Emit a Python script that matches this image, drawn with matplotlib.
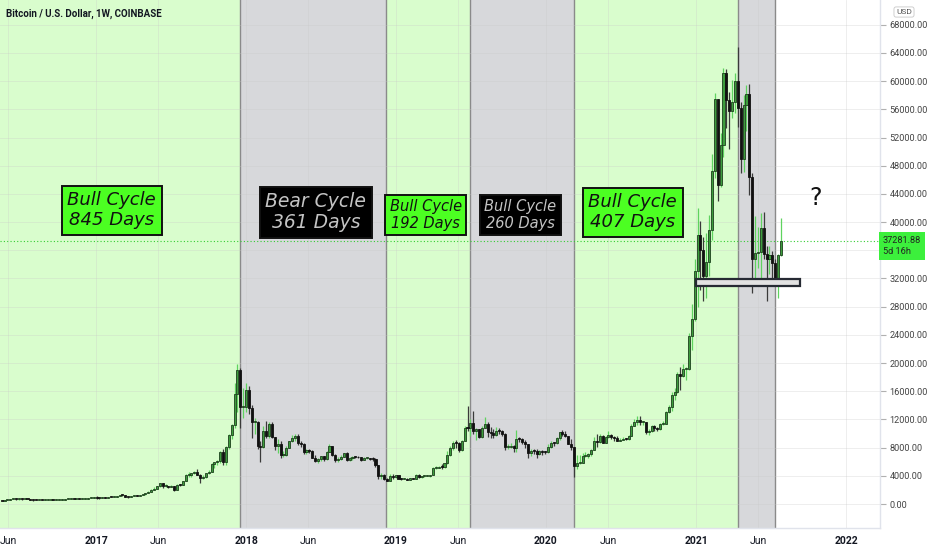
import numpy as np
import pandas as pd
import matplotlib
matplotlib.use('Agg')
import matplotlib.pyplot as plt
import matplotlib.dates as mdates
from matplotlib.patches import Rectangle
from matplotlib.transforms import blended_transform_factory

# weekly BTCUSD candles (Coinbase, 1W)
first_week = '2016-05-16'
first_open = 457

close_2016 = [444,528,583,665,763,665,670,650,666,655,624,590,570,581,570,607,608,609,602,612,
              617,639,653,702,705,703,740,734,765,775,791,890,1000]
high_2016 = [460,530,590,690,780,770,705,680,680,680,670,625,600,590,590,610,615,620,612,615,
             620,640,660,720,740,715,745,750,775,780,795,900,1020]
low_2016 = [440,442,525,570,660,560,620,635,640,650,615,480,565,565,565,568,600,602,595,596,
            605,610,635,650,680,690,690,725,725,755,765,785,880]

close_2017 = [908,826,922,918,1020,1000,1050,1180,1270,1240,1025,965,1090,1190,1180,1240,1350,1560,1720,2040,
              2190,2520,2950,2500,2590,2450,2510,1930,2750,2730,3230,4050,4090,4330,4580,4180,3700,3780,4360,4600,
              5680,5950,6150,7380,5950,8040,9730,11250,15600,19000,13800,13800]
high_2017 = [1150,920,930,930,1030,1060,1060,1190,1290,1330,1250,1060,1100,1200,1220,1260,1360,1600,1850,2200,
             2400,2600,3000,2980,2770,2600,2650,2520,2900,2800,3300,4200,4480,4400,4700,4980,4300,4100,4400,4800,
             5850,6000,6300,7500,7800,8300,9950,11400,17200,19800,19300,16500]
low_2017 = [780,750,820,880,915,980,980,1040,1150,1140,950,890,950,1080,1150,1170,1230,1340,1550,1700,
            1950,2150,2450,2300,2400,2300,2400,1830,1930,2600,2650,3200,3850,3900,4200,4050,2980,3550,3750,4200,
            4550,5100,5600,5750,5500,5550,7800,9200,10800,13000,10800,12200]

close_2018 = [16200,13600,11600,11700,8200,8100,10400,9600,11400,9500,8200,8500,6900,6900,8000,8900,9300,9600,8700,8500,
              7350,7700,7550,6500,6150,6350,6750,6350,7400,8200,7000,6300,6400,6700,7270,6250,6500,6700,6620,6600,
              6300,6480,6490,6400,6350,5550,4000,4100,3600,3230,3950,3900,4050]
high_2018 = [17200,16800,14000,12200,11800,9000,11000,11800,11700,11700,9500,9200,8900,7500,8250,9000,9750,9950,9900,8900,
             8600,7800,7800,7700,6900,6550,6850,6780,7500,8500,8250,7150,6600,6900,7300,7400,6650,6800,6790,6750,
             6700,6600,6600,6560,6600,6500,5600,4450,4200,3650,4250,4250,4100]
low_2018 = [13000,12800,9400,10000,7800,6000,8000,9300,9400,9400,7700,7300,6500,6600,6800,7900,8800,9000,8400,8100,
            7100,7050,7300,6500,5900,5800,6150,6100,6300,7350,6800,5900,6000,6300,6650,6150,6150,6200,6500,6500,
            6150,6200,6350,6300,6150,5300,3500,3600,3350,3200,3200,3600,3700]

close_2019 = [3600,3550,3550,3420,3650,3600,4150,3820,3950,4000,4000,4100,5050,5150,5300,5200,5750,6990,8000,8700,
              8600,7650,8990,10850,10800,11450,10350,10600,9500,10800,11300,10200,10100,9750,10400,10300,10000,8050,8150,8300,
              7950,9250,9200,8800,8500,7300,7550,7500,7100,7500,7400,7350]
high_2019 = [4100,3700,3700,3620,3700,3700,4200,4200,3990,4050,4050,4150,5300,5450,5350,5650,5800,7500,8300,8950,
             9100,8800,9050,11100,13900,12000,13200,10800,10700,11000,12300,11700,10950,10600,10900,10800,10500,10100,8550,8700,
             8400,10500,9450,9400,9150,8500,7800,7850,7800,7600,7700,7500]
low_2019 = [3550,3450,3500,3380,3380,3580,3600,3700,3700,3900,3950,3900,4050,4950,5100,5000,5150,5700,6800,7600,
            8000,7450,7500,8950,10300,9700,9950,9100,9400,9350,10750,9500,9400,9350,9600,10000,9650,7700,7850,7900,
            7400,7350,8850,8500,8000,6500,6850,7100,6500,6900,7000,7150]

close_2020 = [8150,8700,8600,9350,10150,9900,9650,8550,8050,5350,5830,5880,6780,6860,7120,7700,8900,8750,9680,8720,
              9450,9750,9470,9300,9000,9070,9250,9160,9700,11050,11700,11900,11650,11650,10250,10320,11080,10720,10670,11300,
              11400,13030,13800,15480,15950,18420,18180,19150,19150,23850,26250,33000]
high_2020 = [8450,9000,8800,9550,10200,10500,10300,9700,9200,8150,6900,6950,7200,7450,7300,7800,9450,10000,9950,9850,
             9600,10400,9950,9600,9700,9400,9450,9350,9850,11400,12100,12450,12500,11800,11700,10600,11200,11200,10950,11450,
             11750,13200,14100,15950,16480,18800,19500,19900,19400,24300,28400,34800]
low_2020 = [7300,8000,8250,8500,9150,9700,9450,8450,7700,3800,5000,5650,5850,6650,6500,6800,7600,8100,8600,8650,
            8700,9400,9250,8950,8900,8900,9050,9050,9100,9700,11000,11150,11250,11150,9900,9850,10200,10400,10400,10550,
            11200,11350,12900,13250,14800,15800,16200,18000,17600,18950,21800,26000]

close_2021 = [38150,36000,32300,34300,38900,47200,57500,45200,51000,61200,57300,55800,57100,60000,56200,49000,56600,58200,46400,34700,
              35600,35800,39100,35500,34700,35300,34250,31780,35400,37281.88]
high_2021 = [41950,40100,37850,38500,40950,49700,58350,57500,52600,61800,61700,58500,60100,61200,64850,57000,58000,59500,59600,46900,
             40800,39300,41300,41400,36600,36600,35900,34700,35500,40600]
low_2021 = [28000,30400,28800,29300,32300,37400,46200,43000,44950,49300,53300,50400,54800,55500,53500,47000,47100,52900,43800,30000,
            31100,33500,31000,34800,28800,32700,32100,31100,29300,35200]

close = close_2016+close_2017+close_2018+close_2019+close_2020+close_2021
high = high_2016+high_2017+high_2018+high_2019+high_2020+high_2021
low = low_2016+low_2017+low_2018+low_2019+low_2020+low_2021
last_price = close[-1]

# cycle zones
cycle_edges = ['2016-04-01','2017-12-16','2018-12-08','2019-06-29','2020-03-08','2021-04-12','2021-07-11']
cycle_kind = ['bull','bear','bull','bear','bull','bear']
cycle_text = ['Bull Cycle\n845 Days','Bear Cycle\n361 Days','Bull Cycle\n192 Days','Bull Cycle\n260 Days','Bull Cycle\n407 Days']

support_dates = ['2021-01-01','2021-09-11']
support_range = [30900, 31900]

weeks = pd.date_range(first_week, periods=len(close), freq='W-MON')
opn = np.array([first_open]+close[:-1], dtype=float)
close = np.array(close, dtype=float)
high = np.array(high, dtype=float)
low = np.array(low, dtype=float)
up = close >= opn

fig = plt.figure(figsize=(9.32,5.5), dpi=100)
ax = fig.add_axes([0, 22/550, 880/932, 528/550])
ax.set_facecolor('white')

zone_fc = {'bull':'#d9fdcd','bear':'#d7d8db'}
for i,k in enumerate(cycle_kind):
	a, b = pd.Timestamp(cycle_edges[i]), pd.Timestamp(cycle_edges[i+1])
	ax.axvspan(a, b, color=zone_fc[k], zorder=0, lw=0)
for e in cycle_edges[1:]:
	ax.axvline(pd.Timestamp(e), color='#8a8a8a', lw=1.0, zorder=1)

ax.grid(True, color='#c8c8c8', alpha=0.35, lw=0.6, zorder=0.5)

# price line
ax.axhline(last_price, color='#33cc33', lw=0.8, ls=(0,(1,2)), zorder=1.5)

# candles
body_lo = np.minimum(opn, close)
body_h = np.maximum(np.abs(close-opn), 140)
ax.vlines(weeks[up], low[up], high[up], color='#5fd35f', lw=0.9, zorder=2)
ax.vlines(weeks[~up], low[~up], high[~up], color='#3a3a3a', lw=0.9, zorder=2)
ax.bar(weeks[up], body_h[up], bottom=body_lo[up], width=5, color='#3d9c3d',
       edgecolor='#1d3f1d', lw=0.6, zorder=3)
ax.bar(weeks[~up], body_h[~up], bottom=body_lo[~up], width=5, color='#111111',
       edgecolor='#111111', lw=0.6, zorder=3)

# support box
s0, s1 = mdates.date2num(pd.Timestamp(support_dates[0])), mdates.date2num(pd.Timestamp(support_dates[1]))
ax.add_patch(Rectangle((s0, support_range[0]), s1-s0, support_range[1]-support_range[0],
                       fc='#e2e2e2', ec='#262a33', lw=1.6, zorder=4))

# labels
lab_pos = [(0.127,0.602,13),(0.359,0.598,13.5),(0.484,0.593,10.5),(0.591,0.593,10.5),(0.719,0.598,13)]
lab_style = ['bull','bear','bull','bear','bull']
for (x,y,fs),t,k in zip(lab_pos, cycle_text, lab_style):
	if k=='bull':
		fc, tc = '#4cff22', '#111111'
	else:
		fc, tc = '#000000', '#c4c4c4'
	ax.text(x, y, t, transform=ax.transAxes, ha='center', va='center', fontsize=fs,
	        style='italic', color=tc, linespacing=1.15, zorder=6,
	        bbox=dict(boxstyle='square,pad=0.3', fc=fc, ec='#111111', lw=1.4))
ax.text(0.927, 0.625, '?', transform=ax.transAxes, ha='center', va='center',
        fontsize=17, color='#111111', zorder=6)

ax.set_xlim(pd.Timestamp('2016-05-12'), pd.Timestamp('2022-03-24'))
ax.set_ylim(-3405, 71520)

xt = [pd.Timestamp('2016-06-01')]
xl = ['Jun']
for yr in range(2017, 2022):
	xt += [pd.Timestamp(f'{yr}-01-01'), pd.Timestamp(f'{yr}-06-01')]
	xl += [str(yr), 'Jun']
xt.append(pd.Timestamp('2022-01-01')); xl.append('2022')
ax.set_xticks(xt)
ax.set_xticklabels(xl, fontsize=7.5, color='#131722', family='Roboto')
for t in ax.get_xticklabels():
	if t.get_text()!='Jun':
		t.set_fontweight('bold')

# right price scale; the 36000 label sits under the last-price tag
yt = np.arange(0, 68001, 4000)
ax.yaxis.tick_right()
ax.set_yticks(yt)
ax.set_yticklabels(['' if v==36000 else f'{v:.2f}' for v in yt], fontsize=6.6, color='#444444', family='Roboto')
ax.tick_params(axis='y', length=4, color='#b0b0b0', pad=3)
ax.tick_params(axis='x', length=0, pad=6)

for s in ['top','left']:
	ax.spines[s].set_visible(False)
for s in ['right','bottom']:
	ax.spines[s].set_color('#e0e3eb')
	ax.spines[s].set_linewidth(1)

trans = blended_transform_factory(ax.transAxes, ax.transData)
ax.text(1.003, last_price-700, f'{last_price:.2f}\n5d 16h', transform=trans, ha='left', va='center',
        fontsize=6.6, color='#222222', family='Roboto', linespacing=1.3, zorder=7, clip_on=False,
        bbox=dict(boxstyle='square,pad=0.45', fc='#3cf03c', ec='none'))

fig.text(6/932, 1-14/550, 'Bitcoin / U.S. Dollar, 1W, COINBASE', fontsize=7, color='#131722',
         family='Roboto', fontweight='bold', ha='left', va='center')
fig.text(904/932, 1-12/550, 'USD', fontsize=6, color='#555555', family='Roboto', ha='center', va='center',
         bbox=dict(boxstyle='round,pad=0.25', fc='white', ec='#c8c8c8', lw=0.6))

fig.savefig('out.png', dpi=100)
